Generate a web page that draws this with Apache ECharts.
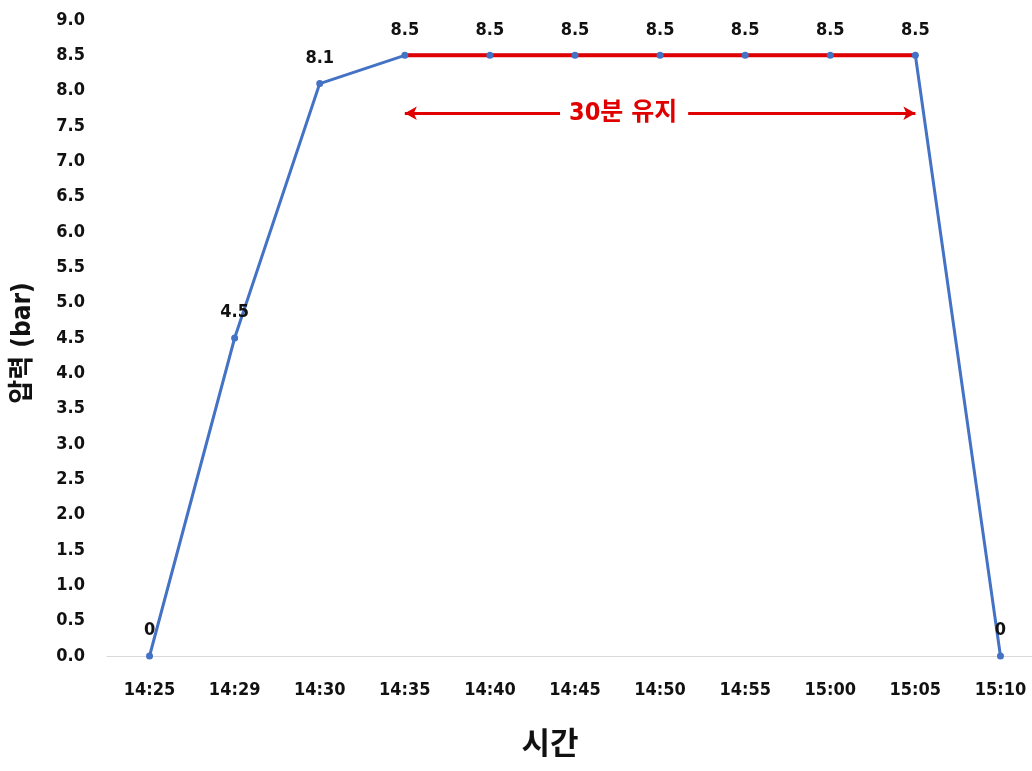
<!DOCTYPE html>
<html>
<head>
<meta charset="utf-8">
<script src="https://cdn.jsdelivr.net/npm/echarts@6/dist/echarts.min.js"></script>
<style>html,body{margin:0;padding:0;background:#fff}#c{width:1032px;height:771px}</style>
</head>
<body>
<div id="c"></div>
<script>
var categories = ['14:25','14:29','14:30','14:35','14:40','14:45','14:50','14:55','15:00','15:05','15:10'];
var pressure = [0, 4.5, 8.1, 8.5, 8.5, 8.5, 8.5, 8.5, 8.5, 8.5, 0];
var holdSegment = [null, null, null, 8.5, 8.5, 8.5, 8.5, 8.5, 8.5, 8.5, null];
var holdLabel = '30분 유지';
var holdArrow = { from: '14:35', to: '15:05', level: 7.68 };
var yTitle = '압력 (bar)';
var xTitle = '시간';

var FONT = '"DejaVu Sans Condensed", "Noto Sans CJK KR", sans-serif';
var chart = echarts.init(document.getElementById('c'));
chart.setOption({
  animation: false,
  backgroundColor: '#fff',
  grid: { left: 107, right: -11, top: 20, bottom: 115, containLabel: false, outerBoundsMode: 'none' },
  xAxis: {
    type: 'category',
    data: categories,
    boundaryGap: true,
    axisLine: { show: true, lineStyle: { color: '#d9d9d9', width: 1 } },
    axisTick: { show: false },
    axisLabel: { color: '#111', fontFamily: FONT, fontWeight: 'bold', fontSize: 18, margin: 25 }
  },
  yAxis: {
    type: 'value',
    min: 0, max: 9, interval: 0.5,
    axisLine: { show: false },
    axisTick: { show: false },
    splitLine: { show: false },
    axisLabel: { color: '#111', fontFamily: FONT, fontWeight: 'bold', fontSize: 18, margin: 22,
      formatter: function (v) { return v.toFixed(1); } }
  },
  graphic: [{
    type: 'text', x: 550, y: 746,
    style: { text: xTitle, fill: '#111', font: 'bold 31px ' + FONT, textAlign: 'center', textVerticalAlign: 'middle' }
  }, {
    type: 'text', x: 23, y: 343, rotation: Math.PI / 2,
    style: { text: yTitle, fill: '#111', font: 'bold 26px ' + FONT, textAlign: 'center', textVerticalAlign: 'middle' }
  }],
  series: [
    {
      type: 'line', data: pressure, showSymbol: false, z: 2,
      lineStyle: { color: '#4472C4', width: 3 }
    },
    {
      type: 'line', data: holdSegment, showSymbol: false, z: 3,
      lineStyle: { color: '#E00000', width: 4 },
      markLine: {
        silent: true,
        symbol: ['arrow', 'arrow'],
        symbolSize: [10, 12],
        lineStyle: { color: '#E00000', width: 3, type: 'solid' },
        label: {
          show: true, position: 'middle', distance: 0, verticalAlign: 'middle', offset: [-36, 0],
          formatter: holdLabel,
          color: '#E00000', fontFamily: FONT, fontWeight: 'bold', fontSize: 25,
          backgroundColor: '#fff', padding: [2, 11, 2, 9]
        },
        data: [[{ coord: [holdArrow.from, holdArrow.level] }, { coord: [holdArrow.to, holdArrow.level] }]]
      }
    },
    {
      type: 'line', data: pressure, z: 4,
      symbol: 'circle', symbolSize: 7,
      itemStyle: { color: '#4472C4' },
      lineStyle: { width: 0 },
      label: {
        show: true, position: 'top', distance: 13,
        color: '#111', fontFamily: FONT, fontWeight: 'bold', fontSize: 18,
        formatter: function (p) { return String(p.value); }
      }
    }
  ]
});
</script>
</body>
</html>
